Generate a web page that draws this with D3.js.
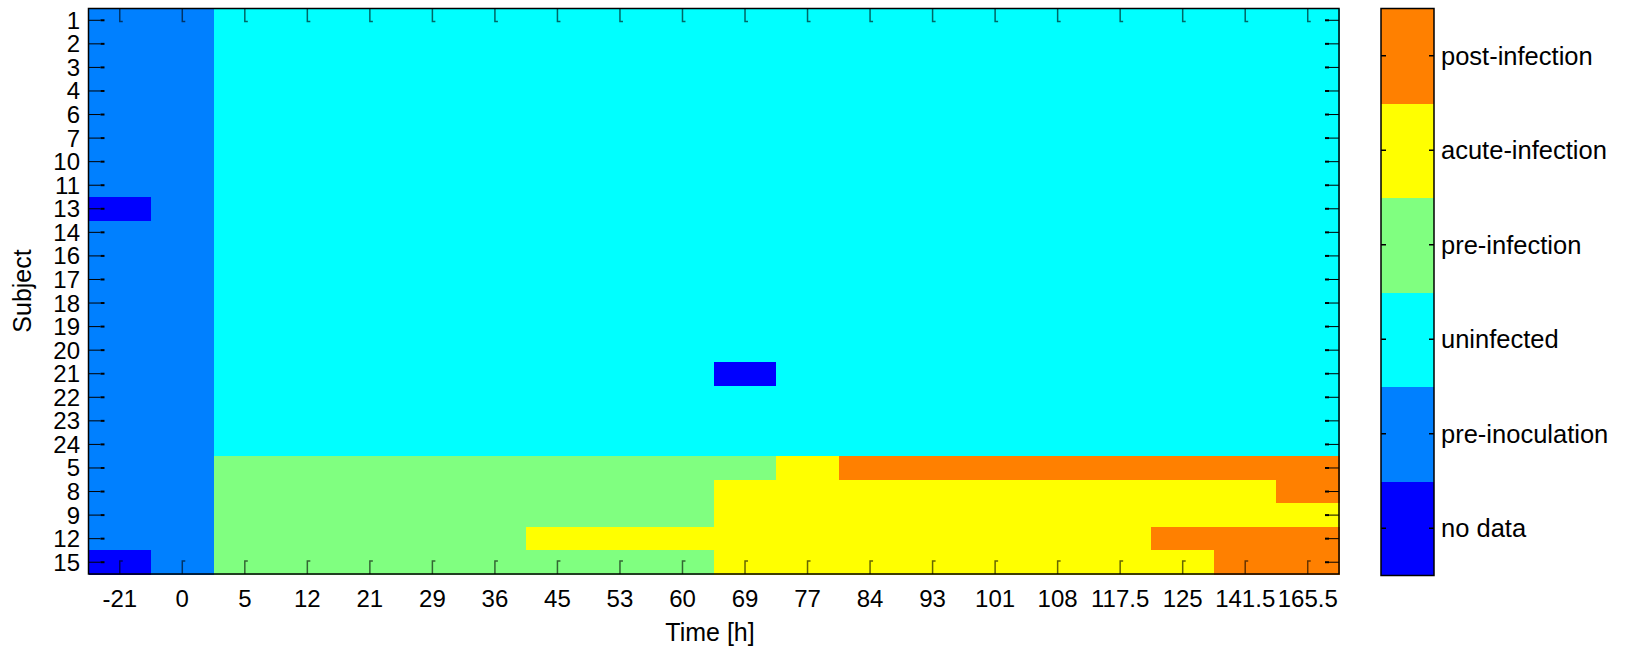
<!DOCTYPE html>
<html><head><meta charset="utf-8">
<script src="https://cdn.jsdelivr.net/npm/d3@7"></script>
<style>body{margin:0;background:#fff}svg{display:block}text{font-family:"Liberation Sans",Arial,sans-serif;fill:#000}</style>
</head><body><svg id="c" width="1629" height="647"></svg>
<script>
const times = ["-21","0","5","12","21","29","36","45","53","60","69","77","84","93","101","108","117.5","125","141.5","165.5"];
const subjects = ["1","2","3","4","6","7","10","11","13","14","16","17","18","19","20","21","22","23","24","5","8","9","12","15"];
const categories = ["no data","pre-inoculation","uninfected","pre-infection","acute-infection","post-infection"];
const catColors = ["#0000ff","#0080ff","#00ffff","#80ff80","#ffff00","#ff8000"];
// status code per subject (row) and time point (column)
const status = [
 [1,1,2,2,2,2,2,2,2,2,2,2,2,2,2,2,2,2,2,2], // 1
 [1,1,2,2,2,2,2,2,2,2,2,2,2,2,2,2,2,2,2,2], // 2
 [1,1,2,2,2,2,2,2,2,2,2,2,2,2,2,2,2,2,2,2], // 3
 [1,1,2,2,2,2,2,2,2,2,2,2,2,2,2,2,2,2,2,2], // 4
 [1,1,2,2,2,2,2,2,2,2,2,2,2,2,2,2,2,2,2,2], // 6
 [1,1,2,2,2,2,2,2,2,2,2,2,2,2,2,2,2,2,2,2], // 7
 [1,1,2,2,2,2,2,2,2,2,2,2,2,2,2,2,2,2,2,2], // 10
 [1,1,2,2,2,2,2,2,2,2,2,2,2,2,2,2,2,2,2,2], // 11
 [0,1,2,2,2,2,2,2,2,2,2,2,2,2,2,2,2,2,2,2], // 13
 [1,1,2,2,2,2,2,2,2,2,2,2,2,2,2,2,2,2,2,2], // 14
 [1,1,2,2,2,2,2,2,2,2,2,2,2,2,2,2,2,2,2,2], // 16
 [1,1,2,2,2,2,2,2,2,2,2,2,2,2,2,2,2,2,2,2], // 17
 [1,1,2,2,2,2,2,2,2,2,2,2,2,2,2,2,2,2,2,2], // 18
 [1,1,2,2,2,2,2,2,2,2,2,2,2,2,2,2,2,2,2,2], // 19
 [1,1,2,2,2,2,2,2,2,2,2,2,2,2,2,2,2,2,2,2], // 20
 [1,1,2,2,2,2,2,2,2,2,0,2,2,2,2,2,2,2,2,2], // 21
 [1,1,2,2,2,2,2,2,2,2,2,2,2,2,2,2,2,2,2,2], // 22
 [1,1,2,2,2,2,2,2,2,2,2,2,2,2,2,2,2,2,2,2], // 23
 [1,1,2,2,2,2,2,2,2,2,2,2,2,2,2,2,2,2,2,2], // 24
 [1,1,3,3,3,3,3,3,3,3,3,4,5,5,5,5,5,5,5,5], // 5
 [1,1,3,3,3,3,3,3,3,3,4,4,4,4,4,4,4,4,4,5], // 8
 [1,1,3,3,3,3,3,3,3,3,4,4,4,4,4,4,4,4,4,4], // 9
 [1,1,3,3,3,3,3,4,4,4,4,4,4,4,4,4,4,5,5,5], // 12
 [0,1,3,3,3,3,3,3,3,3,4,4,4,4,4,4,4,4,5,5]  // 15
];

const svg = d3.select("#c");
const L = 88.5, R = 1339, T = 8.5, B = 574;
const x = d3.scaleBand().domain(times).range([L, R]);
const y = d3.scaleBand().domain(subjects).range([T, B]);
const color = d3.scaleOrdinal().domain(d3.range(categories.length)).range(catColors);

const cells = [];
status.forEach((row, i) => row.forEach((v, j) => cells.push({s: subjects[i], t: times[j], v})));
svg.append("g").attr("shape-rendering", "crispEdges").selectAll("rect").data(cells).join("rect")
  .attr("x", d => x(d.t)).attr("y", d => y(d.s))
  .attr("width", x.bandwidth() + 1).attr("height", y.bandwidth() + 1)
  .attr("fill", d => color(d.v));

const tk = svg.append("g").attr("stroke", "#000").attr("stroke-opacity", 0.6).attr("fill", "none");
times.forEach(t => {
  const cx = x(t) + x.bandwidth() / 2;
  tk.append("path").attr("d", `M${cx},${T} V${T+13} h3`).attr("stroke-width", 1.5);
  tk.append("path").attr("d", `M${cx},${B} V${B-13} h3`).attr("stroke-width", 1.5);
});
const tk2 = svg.append("g").attr("stroke", "#000").attr("fill", "none");
subjects.forEach(s => {
  const cy = y(s) + y.bandwidth() / 2;
  tk2.append("path").attr("d", `M${L},${cy} H${L+12}`).attr("stroke-width", 1);
  tk2.append("path").attr("d", `M${L+12},${cy} H${L+16}`).attr("stroke-width", 2);
  tk2.append("path").attr("d", `M${R},${cy} H${R-10}`).attr("stroke-width", 1);
  tk2.append("path").attr("d", `M${R-10},${cy} H${R-14}`).attr("stroke-width", 2);
});
svg.append("rect").attr("x", L).attr("y", T).attr("width", R - L).attr("height", B - T)
  .attr("fill", "none").attr("stroke", "#000").attr("stroke-width", 1.5);

// axis labels
svg.append("g").selectAll("text").data(times).join("text")
  .attr("x", d => x(d) + x.bandwidth() / 2).attr("y", 607)
  .attr("text-anchor", "middle").attr("font-size", 24).text(d => d);
svg.append("g").selectAll("text").data(subjects).join("text")
  .attr("x", 80).attr("y", d => y(d) + y.bandwidth() / 2 + 8.5)
  .attr("text-anchor", "end").attr("font-size", 24).text(d => d);
svg.append("text").attr("x", 710).attr("y", 641).attr("text-anchor", "middle").attr("font-size", 25).text("Time [h]");
svg.append("text").attr("transform", "translate(31,291) rotate(-90)").attr("text-anchor", "middle").attr("font-size", 25).text("Subject");

// colorbar
const cbL = 1381, cbR = 1434, cbT = 8.5, cbB = 575.5;
const cy = d3.scaleBand().domain(d3.range(categories.length).reverse()).range([cbT, cbB]);
svg.append("g").attr("shape-rendering", "crispEdges").selectAll("rect").data(d3.range(categories.length)).join("rect")
  .attr("x", cbL).attr("y", d => cy(d)).attr("width", cbR - cbL).attr("height", cy.bandwidth() + 0.5)
  .attr("fill", d => color(d));
const ctk = svg.append("g").attr("stroke", "#000").attr("stroke-width", 1.5);
categories.forEach((c, i) => {
  const yy = cy(i) + cy.bandwidth() / 2;
  ctk.append("line").attr("x1", cbL).attr("x2", cbL + 5).attr("y1", yy).attr("y2", yy);
  ctk.append("line").attr("x1", cbR).attr("x2", cbR - 5).attr("y1", yy).attr("y2", yy);
});
svg.append("rect").attr("x", cbL).attr("y", cbT).attr("width", cbR - cbL).attr("height", cbB - cbT)
  .attr("fill", "none").attr("stroke", "#000").attr("stroke-width", 1.5);
svg.append("g").selectAll("text").data(categories).join("text")
  .attr("x", 1441).attr("y", (d, i) => cy(i) + cy.bandwidth() / 2 + 9)
  .attr("font-size", 25.5).text(d => d);
</script></body></html>
